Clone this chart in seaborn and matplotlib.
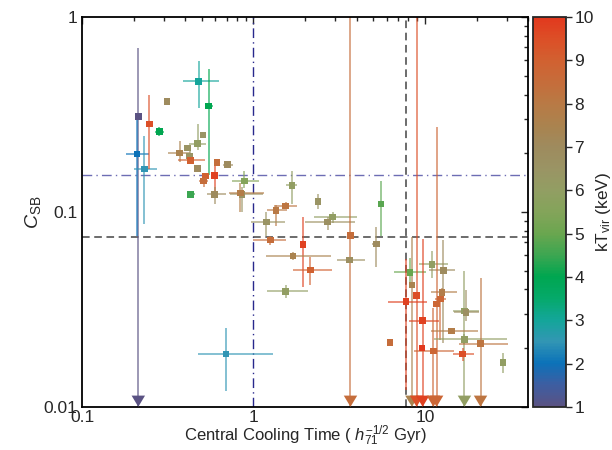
import numpy as np
import pandas as pd
import seaborn as sns
import matplotlib.pyplot as plt
from matplotlib.colors import LinearSegmentedColormap, Normalize

# central cooling time (Gyr) with lower / upper bounds
tcool = [0.213, 0.209, 0.231, 0.247, 0.313, 0.283, 0.479, 0.548, 0.508, 0.472,
         0.411, 0.371, 0.425, 0.428, 0.47, 0.613, 0.708, 0.524, 0.594, 0.512,
         0.885, 0.43, 0.594, 0.86, 0.84, 1.683, 2.38, 1.54, 1.35, 1.19,
         2.9, 2.71, 5.53, 3.68, 1.256, 1.95, 5.21, 1.7, 3.63, 2.15,
         1.54, 0.692, 8.17, 8.4, 11.0, 12.8, 8.94, 7.74, 12.6, 12.3,
         11.7, 9.7, 17.0, 17.4, 14.3, 17.0, 21.1, 6.24, 9.6, 11.2,
         16.6, 28.5]
tcool_lo = [0.205, 0.18, 0.202, 0.242, 0.305, 0.265, 0.386, 0.52, 0.49, 0.42,
            0.40, 0.318, 0.41, 0.365, 0.455, 0.6, 0.66, 0.50, 0.575, 0.48,
            0.75, 0.41, 0.535, 0.73, 0.72, 1.55, 2.28, 1.32, 1.2, 0.97,
            2.25, 2.0, 5.3, 3.6, 1.0, 1.88, 4.9, 1.19, 3.05, 1.71,
            1.2, 0.472, 6.6, 8.2, 9.2, 10.5, 8.7, 6.1, 10.8, 11.5,
            11.3, 8.1, 14.5, 14.8, 10.8, 11.3, 15.8, 6.0, 9.3, 8.6,
            14.5, 27.5]
tcool_hi = [0.222, 0.247, 0.273, 0.252, 0.32, 0.302, 0.633, 0.58, 0.525, 0.53,
            0.42, 0.428, 0.44, 0.525, 0.485, 0.625, 0.76, 0.55, 0.615, 0.54,
            1.07, 0.455, 0.687, 1.14, 1.15, 1.8, 2.48, 1.8, 1.52, 1.52,
            4.04, 3.9, 5.8, 3.76, 1.55, 2.02, 5.5, 2.84, 4.5, 2.86,
            2.07, 1.3, 10.2, 8.6, 13.6, 15.0, 9.2, 10.3, 15.3, 13.2,
            12.1, 12.0, 20.8, 20.8, 20.5, 30.0, 30.6, 6.5, 10.0, 14.7,
            19.2, 29.5]

# central surface brightness concentration with lower / upper bounds
csb = [0.308, 0.198, 0.166, 0.282, 0.369, 0.258, 0.468, 0.349, 0.248, 0.224,
       0.213, 0.201, 0.194, 0.184, 0.167, 0.179, 0.175, 0.153, 0.154, 0.144,
       0.144, 0.123, 0.123, 0.123, 0.125, 0.137, 0.113, 0.107, 0.102, 0.089,
       0.094, 0.089, 0.110, 0.0756, 0.0717, 0.068, 0.0683, 0.0595, 0.0568, 0.0504,
       0.0391, 0.0187, 0.049, 0.0423, 0.0538, 0.0501, 0.0373, 0.0347, 0.0387, 0.0358,
       0.0337, 0.0277, 0.031, 0.0305, 0.0245, 0.0222, 0.0211, 0.0214, 0.020, 0.0193,
       0.0187, 0.0169]
csb_lo = [0.01, 0.075, 0.087, 0.167, 0.355, 0.245, 0.34, 0.154, 0.24, 0.207,
          0.205, 0.18, 0.185, 0.178, 0.16, 0.172, 0.17, 0.148, 0.122, 0.135,
          0.133, 0.12, 0.11, 0.10, 0.10, 0.110, 0.104, 0.101, 0.085, 0.075,
          0.088, 0.081, 0.075, 0.01, 0.068, 0.041, 0.052, 0.057, 0.0555, 0.042,
          0.036, 0.0121, 0.043, 0.01, 0.046, 0.0212, 0.01, 0.0122, 0.037, 0.022,
          0.01, 0.01, 0.01, 0.0275, 0.0235, 0.021, 0.01, 0.0208, 0.0195, 0.01,
          0.0171, 0.0149]
csb_hi = [0.694, 0.307, 0.244, 0.397, 0.385, 0.272, 0.593, 0.543, 0.256, 0.283,
          0.221, 0.23, 0.205, 0.19, 0.175, 0.186, 0.18, 0.158, 0.181, 0.15,
          0.162, 0.126, 0.135, 0.135, 0.14, 0.162, 0.123, 0.112, 0.109, 0.10,
          0.10, 0.094, 0.144, 1.5, 0.0755, 0.094, 0.084, 0.062, 0.058, 0.059,
          0.042, 0.0253, 0.058, 0.0745, 0.063, 0.0717, 1.5, 0.0575, 0.0405, 0.04,
          0.272, 0.0726, 0.05, 0.0397, 0.0255, 0.0235, 0.0457, 0.022, 0.0205, 0.032,
          0.020, 0.0188]

# virial temperature (keV)
kT = [1.0, 2.0, 2.5, 9.5, 7.0, 4.0, 3.0, 4.0, 6.5, 6.0,
      6.5, 7.5, 6.5, 9.0, 7.0, 8.5, 7.0, 9.0, 9.8, 8.5,
      5.5, 4.5, 7.0, 6.5, 7.8, 6.0, 6.5, 8.2, 8.0, 6.5,
      6.0, 6.7, 4.8, 8.5, 8.5, 9.8, 7.0, 7.5, 6.8, 9.0,
      6.0, 2.5, 5.0, 7.5, 6.0, 7.0, 9.5, 9.8, 7.8, 8.8,
      8.8, 9.8, 6.0, 6.8, 7.8, 6.0, 8.2, 8.5, 10.0, 8.8,
      9.5, 6.0]

# upper limits on C_SB (drawn with an arrow at the bottom)
upper_limit = [True, False, False, False, False, False, False, False, False, False,
               False, False, False, False, False, False, False, False, False, False,
               False, False, False, False, False, False, False, False, False, False,
               False, False, False, True, False, False, False, False, False, False,
               False, False, False, True, False, False, True, False, False, False,
               True, True, True, False, False, False, True, False, False, True,
               False, False]

df = pd.DataFrame({'tcool': tcool, 'tlo': tcool_lo, 'thi': tcool_hi,
                   'csb': csb, 'clo': csb_lo, 'chi': csb_hi,
                   'kT': kT, 'lim': upper_limit})

sns.set_style('white')
plt.rcParams['font.family'] = ['Liberation Sans', 'DejaVu Sans']
plt.rcParams['mathtext.fontset'] = 'custom'
plt.rcParams['mathtext.rm'] = 'Liberation Sans'
plt.rcParams['mathtext.it'] = 'Liberation Sans:italic'

# colour table
cb_nodes = [(1.0, '#5a5283'), (1.5, '#3d5ea2'), (2.0, '#0b72b9'), (2.5, '#3296b4'),
            (3.0, '#13a699'), (3.5, '#05a96a'), (4.0, '#00a650'), (4.5, '#3ca651'),
            (5.0, '#6aa64f'), (5.5, '#84a45a'), (6.0, '#929e63'), (6.5, '#9a9464'),
            (7.0, '#9e8b5e'), (7.5, '#aa834f'), (8.0, '#b87a45'), (8.5, '#c56d3b'),
            (9.0, '#d16131'), (9.5, '#dc4f27'), (10.0, '#e2391e')]
cmap = LinearSegmentedColormap.from_list(
    'ktvir', [((v - 1) / 9, c) for v, c in cb_nodes])
norm = Normalize(1, 10)

fig = plt.figure(figsize=(6.12, 4.5), dpi=100)
ax = fig.add_axes([0.134, 0.096, 0.729, 0.866])
cax = fig.add_axes([0.871, 0.096, 0.054, 0.866])

ax.set_xscale('log')
ax.set_yscale('log')
ax.set_xlim(0.1, 40)
ax.set_ylim(0.01, 1)

# error bars
for _, r in df.iterrows():
    col = cmap(norm(r.kT))
    ax.errorbar(r.tcool, r.csb,
                xerr=[[r.tcool - r.tlo], [r.thi - r.tcool]],
                yerr=[[r.csb - r.clo], [r.chi - r.csb]],
                fmt='none', ecolor=col, alpha=0.6, elinewidth=1.4,
                capsize=0, zorder=2)

# reference lines
ax.axhline(0.154, color='#6d6db4', ls=(0, (7, 3, 1, 3)), lw=1.0, zorder=1)
ax.axvline(1.0, color='#28288c', ls=(0, (7, 3, 1, 3)), lw=1.0, zorder=1)
ax.axhline(0.0745, color='#444444', ls=(0, (5, 3)), lw=1.1, zorder=1)
ax.axvline(7.75, color='#444444', ls=(0, (5, 3)), lw=1.1, zorder=1)

# points
sns.scatterplot(data=df, x='tcool', y='csb', hue='kT', palette=cmap,
                hue_norm=norm, marker='s', s=22, linewidth=0,
                legend=False, ax=ax, zorder=3)

# upper-limit arrows, tip on the bottom axis
lims = df[df['lim']].copy()
lims['ybot'] = 0.01
arrow = [(-0.6, 1.0), (0.6, 1.0), (0.0, 0.0), (-0.6, 1.0)]
sns.scatterplot(data=lims, x='tcool', y='ybot', hue='kT', palette=cmap,
                hue_norm=norm, marker=arrow, s=260, linewidth=0,
                legend=False, ax=ax, zorder=4, clip_on=False)

ax.set_xticks([0.1, 1, 10])
ax.set_xticklabels(['0.1', '1', '10'])
ax.set_yticks([0.01, 0.1, 1])
ax.set_yticklabels(['0.01', '0.1', '1'])
ax.tick_params(which='both', direction='in', top=True, right=True,
               labelsize=12.5, width=1.0)
ax.tick_params(axis='x', pad=2)
ax.tick_params(which='major', length=5)
ax.tick_params(which='minor', length=3)
for s in ax.spines.values():
    s.set_linewidth(1.3)
    s.set_color('black')

ax.set_xlabel('Central Cooling Time ( $h_{71}^{-1/2}$ Gyr)', fontsize=12, labelpad=-1)
ax.set_ylabel('$C_{\\rm SB}$', fontsize=14, labelpad=0)

cb = fig.colorbar(plt.cm.ScalarMappable(norm=norm, cmap=cmap), cax=cax)
cb.set_ticks(range(1, 11))
cb.ax.tick_params(labelsize=12.5, length=4, width=1.0, pad=2)
cb.outline.set_linewidth(1.3)
cb.set_label('kT$_{\\rm vir}$ (keV)', fontsize=12.5, labelpad=0)

plt.savefig('out.png', dpi=100)
